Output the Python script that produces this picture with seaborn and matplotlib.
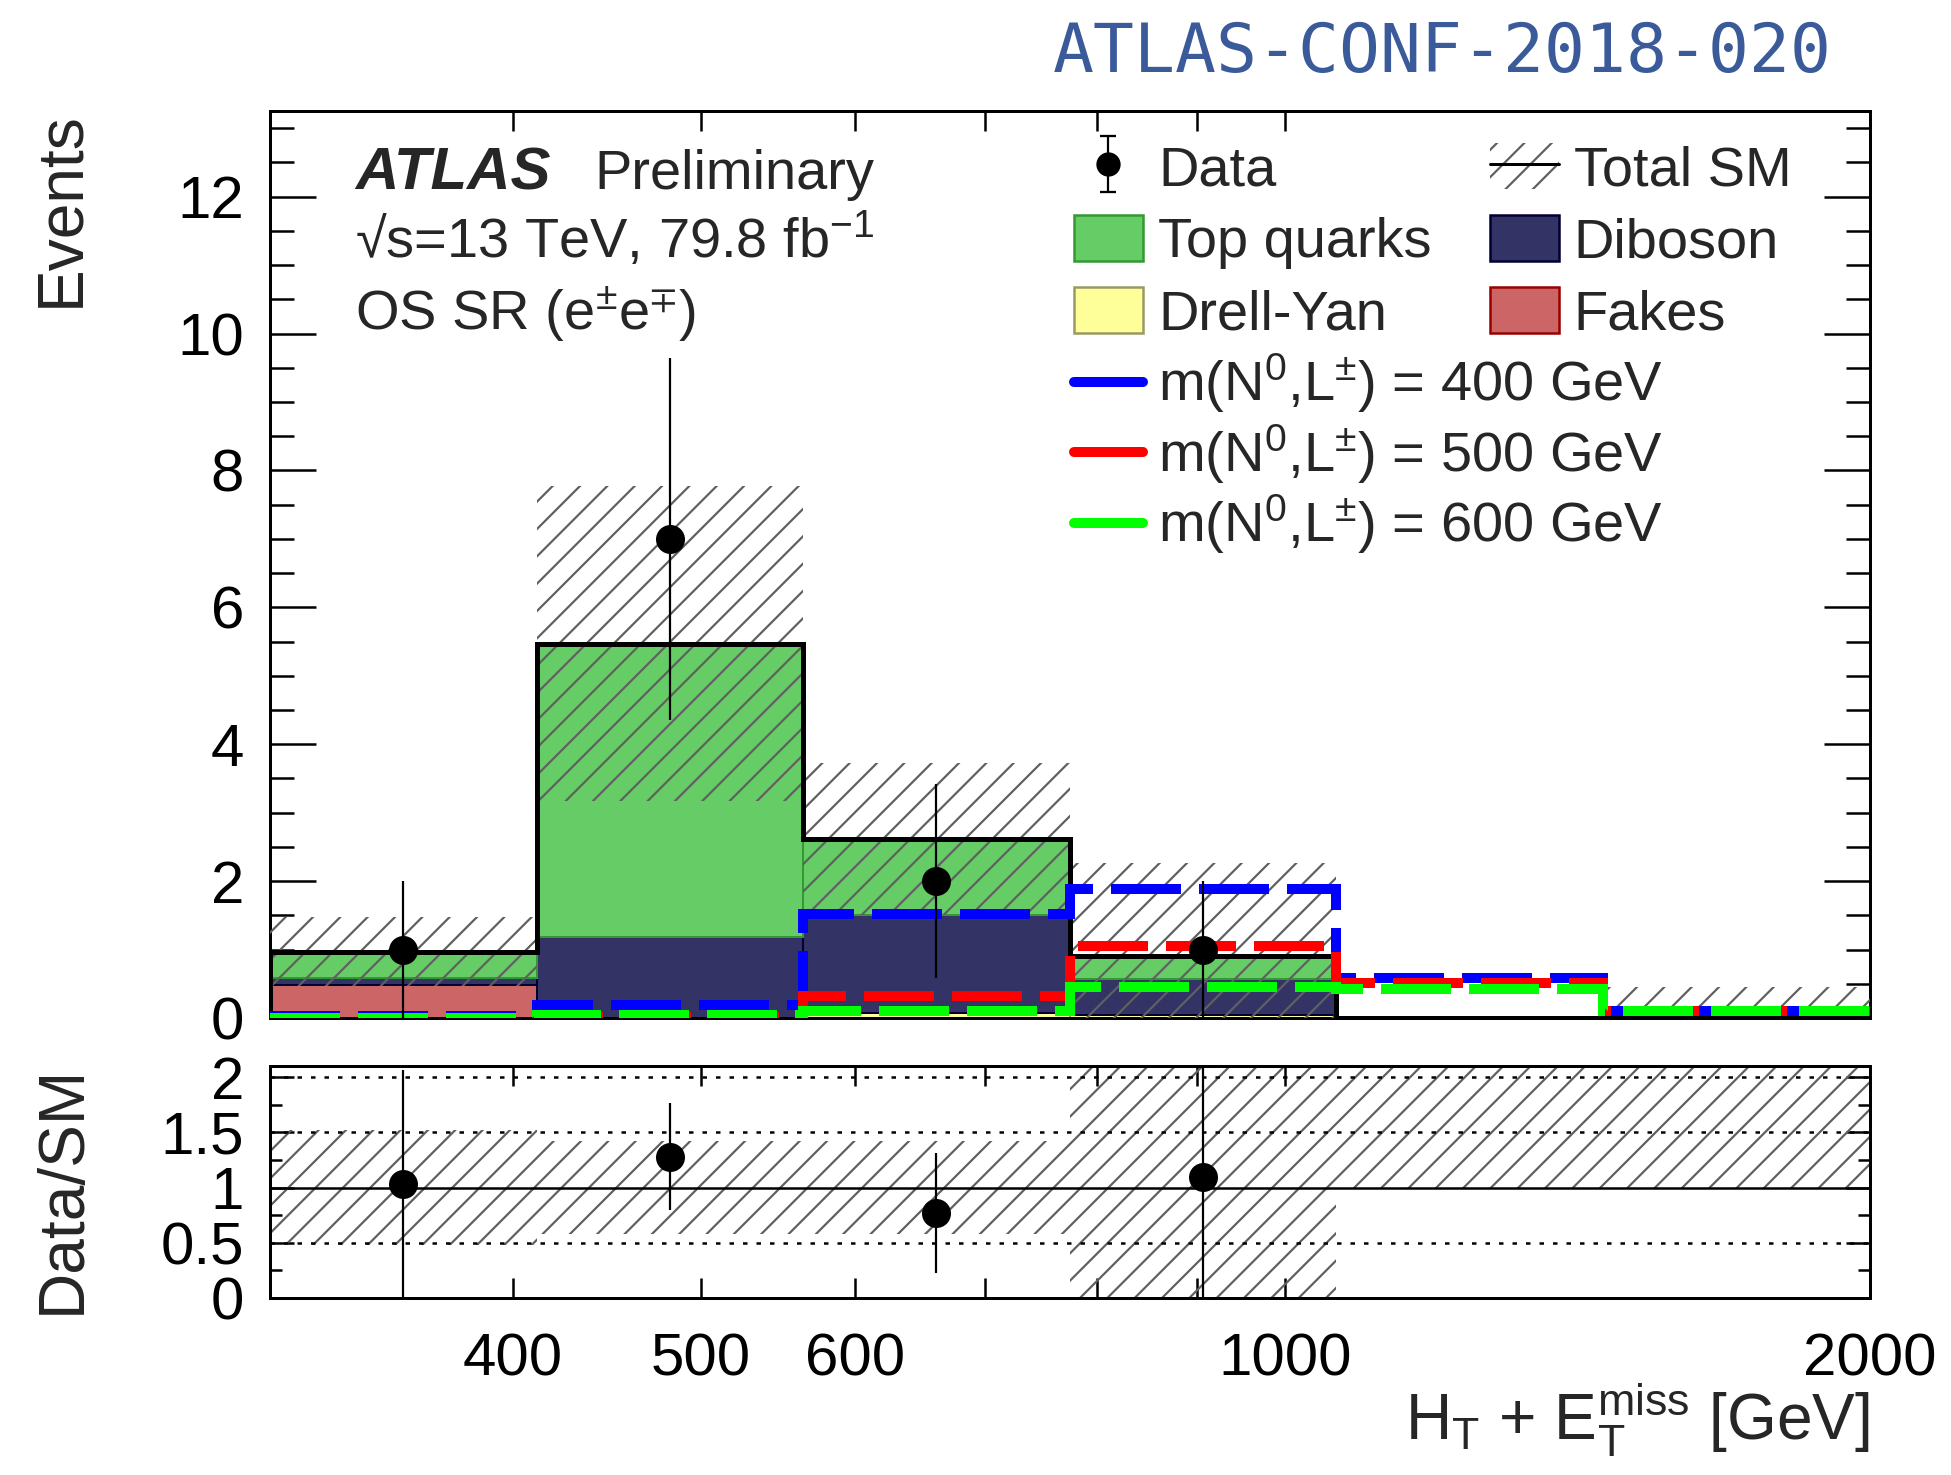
import numpy as np
import matplotlib
matplotlib.use("Agg")
import matplotlib.pyplot as plt
from matplotlib.patches import Patch
from matplotlib.lines import Line2D
from matplotlib.ticker import MultipleLocator, FixedLocator, NullLocator, FuncFormatter
import seaborn as sns

DPI = 164


def pt(px):
    # pixel size -> points at the figure dpi
    return px * 72.0 / DPI


# -------------------------
# Data
# -------------------------
edges = [300, 411.5, 564.5, 774.3, 1062, 1457, 2000]
fakes = [0.48, 0.0, 0.0, 0.0, 0.0, 0.0]
drell_yan = [0.0, 0.0, 0.08, 0.05, 0.0, 0.0]
diboson = [0.10, 1.19, 1.43, 0.52, 0.0, 0.0]
top_quarks = [0.39, 4.28, 1.10, 0.34, 0.0, 0.0]
sm_unc = [0.50, 2.30, 1.11, 1.35, 0.0, 0.46]
data_counts = [1, 7, 2, 1, 0, 0]
sig_400 = [0.03, 0.19, 1.52, 1.89, 0.58, 0.10]
sig_500 = [0.00, 0.02, 0.32, 1.05, 0.51, 0.10]
sig_600 = [0.00, 0.05, 0.10, 0.46, 0.43, 0.10]
ratio_band_lo = [0.48, 0.58, 0.575, 0.0, 1.0, 1.0]
ratio_band_hi = [1.52, 1.42, 1.425, 2.2, 2.2, 2.2]
x_labels = {400: "400", 500: "500", 600: "600", 1000: "1000", 2000: "2000"}

# -------------------------
# Style
# -------------------------
sns.set_theme(style="ticks")
plt.rcParams["font.family"] = ["Liberation Sans", "DejaVu Sans"]
plt.rcParams["mathtext.fontset"] = "custom"
plt.rcParams["mathtext.rm"] = "Liberation Sans"
plt.rcParams["mathtext.it"] = "Liberation Sans:italic"
plt.rcParams["mathtext.default"] = "regular"
plt.rcParams["hatch.linewidth"] = pt(2.2)
plt.rcParams["axes.linewidth"] = pt(3)

TXT = pt(56)
TICK = pt(60)

fig = plt.figure(figsize=(1951 / DPI, 1475 / DPI), dpi=DPI)
ax = fig.add_axes([0.1384, 0.3098, 0.8201, 0.6149])
ax2 = fig.add_axes([0.1384, 0.1200, 0.8201, 0.1573], sharex=ax)

e = np.array(edges)
left = e[:-1]
width = np.diff(e)
centres = np.sqrt(e[:-1] * e[1:])

# stacked backgrounds, bottom -> top
stack = [
    ("Fakes", fakes, "#cc6666", "#990000"),
    ("Drell-Yan", drell_yan, "#ffff99", "#999966"),
    ("Diboson", diboson, "#333366", "#000033"),
    ("Top quarks", top_quarks, "#66cc66", "#339933"),
]
base = np.zeros(len(left))
for name, vals, fc, ec in stack:
    v = np.array(vals)
    ax.bar(left, v, width=width, bottom=base, align="edge", color=fc,
           edgecolor=ec, linewidth=pt(2), zorder=2)
    base = base + v
total = base

# uncertainty band
unc = np.array(sm_unc)
lo = np.clip(total - unc, 0, None)
ax.bar(left, total + unc - lo, width=width, bottom=lo, align="edge", fill=False,
       hatch="//", edgecolor="#606060", linewidth=0, zorder=3)
ax.stairs(total, e, baseline=0, color="black", linewidth=pt(5), zorder=4)

# signals
dash = (0, (7.0, 1.8))
for vals, col in [(sig_400, "#0000ff"), (sig_500, "#ff0000"), (sig_600, "#00ff00")]:
    ax.stairs(vals, e, baseline=None, color=col, linewidth=pt(10),
              linestyle=dash, zorder=5)

# data
counts = np.array(data_counts, dtype=float)
has = counts > 0
ax.errorbar(centres[has], counts[has], yerr=np.sqrt(counts[has]), fmt="none",
            ecolor="black", elinewidth=pt(2.2), capsize=0, zorder=6)
sns.scatterplot(x=centres[has], y=counts[has], ax=ax, color="black", s=pt(29) ** 2,
                edgecolor="black", linewidth=0, zorder=7, legend=False)

# -------------------------
# Ratio panel
# -------------------------
ax2.bar(left, np.array(ratio_band_hi) - np.array(ratio_band_lo), width=width,
        bottom=ratio_band_lo, align="edge", fill=False, hatch="//",
        edgecolor="#606060", linewidth=0, zorder=2)
for yv in (0.5, 1.5, 2.0):
    ax2.axhline(yv, color="black", linestyle=(0, (1.8, 3.6)), linewidth=pt(2.5), zorder=3)
ax2.axhline(1.0, color="black", linewidth=pt(2.5), zorder=3)
ratio = counts[has] / total[has]
ratio_err = np.sqrt(counts[has]) / total[has]
ax2.errorbar(centres[has], ratio, yerr=ratio_err, fmt="none", ecolor="black",
             elinewidth=pt(2.2), capsize=0, zorder=4)
sns.scatterplot(x=centres[has], y=ratio, ax=ax2, color="black", s=pt(29) ** 2,
                edgecolor="black", linewidth=0, zorder=5, legend=False)

# -------------------------
# Axes
# -------------------------
for a in (ax, ax2):
    a.set_xscale("log")
    a.set_xlim(300, 2000)
    a.xaxis.set_major_locator(FixedLocator([300, 400, 500, 600, 700, 800, 900, 1000, 2000]))
    a.xaxis.set_minor_locator(NullLocator())
    a.tick_params(which="both", direction="in", top=True, right=True,
                  width=pt(2.5), labelsize=TICK, colors="black")
    for s in a.spines.values():
        s.set_color("black")

ax.set_ylim(0, 13.25)
ax.yaxis.set_major_locator(MultipleLocator(2))
ax.yaxis.set_minor_locator(MultipleLocator(0.5))
ax.tick_params(axis="y", which="major", length=pt(46), pad=pt(26))
ax.tick_params(axis="y", which="minor", length=pt(24))
ax.tick_params(axis="x", which="major", length=pt(20), labelbottom=False)

ax2.set_ylim(0, 2.1)
ax2.yaxis.set_major_locator(MultipleLocator(0.5))
ax2.yaxis.set_minor_locator(MultipleLocator(0.25))
ax2.yaxis.set_major_formatter(FuncFormatter(lambda v, p: f"{v:g}"))
ax2.tick_params(axis="y", which="major", length=pt(24), pad=pt(26))
ax2.tick_params(axis="y", which="minor", length=pt(12))
ax2.tick_params(axis="x", which="major", length=pt(20), pad=pt(34))
ax2.xaxis.set_major_formatter(FuncFormatter(lambda v, p: x_labels.get(int(round(v)), "")))

ax.set_ylabel("Events", fontsize=pt(64), loc="top")
ax.yaxis.set_label_coords(-0.112, 1.0)
ax2.set_ylabel("Data/SM", fontsize=pt(64))
ax2.yaxis.set_label_coords(-0.111, 0.47)
ax2.set_xlabel(r"H$_\mathrm{T}$ + E$_\mathrm{T}^\mathrm{miss}$ [GeV]", fontsize=pt(64), loc="right")
ax2.xaxis.set_label_coords(1.0, -0.36)

# -------------------------
# Labels and legends
# -------------------------
ax.text(0.053, 0.914, "ATLAS", transform=ax.transAxes, fontsize=pt(60),
        fontweight="bold", fontstyle="italic", va="baseline")
ax.text(0.203, 0.914, "Preliminary", transform=ax.transAxes, fontsize=TXT, va="baseline")
ax.text(0.053, 0.838, "\u221as=13 TeV, 79.8 fb$^{-1}$", transform=ax.transAxes,
        fontsize=TXT, va="baseline")
ax.text(0.053, 0.759, r"OS SR (e$^{\pm}$e$^{\mp}$)", transform=ax.transAxes,
        fontsize=TXT, va="baseline")

fig.text(1832 / 1951, 1 - 53 / 1475, "ATLAS-CONF-2018-020", ha="right", va="center",
         family="DejaVu Sans Mono", color="#3b5a9a", fontsize=pt(68))

data_h = ax.errorbar([np.nan], [np.nan], yerr=[1.0], fmt="o", color="black",
                     ms=pt(22), elinewidth=pt(2.2), capsize=pt(8))
sm_h = (Patch(facecolor="none", edgecolor="#606060", hatch="//", linewidth=0),
        Line2D([], [], color="black", linewidth=pt(3)))
handles = [data_h,
           Patch(facecolor="#66cc66", edgecolor="#339933", linewidth=pt(2.5)),
           Patch(facecolor="#ffff99", edgecolor="#999966", linewidth=pt(2.5)),
           sm_h,
           Patch(facecolor="#333366", edgecolor="#000033", linewidth=pt(2.5)),
           Patch(facecolor="#cc6666", edgecolor="#990000", linewidth=pt(2.5))]
labels = ["Data", "Top quarks", "Drell-Yan", "Total SM", "Diboson", "Fakes"]
leg1 = ax.legend(handles, labels, ncol=2, loc="upper left", bbox_to_anchor=(0.5025, 0.965),
                 frameon=False, fontsize=TXT, borderpad=0, borderaxespad=0,
                 handlelength=1.23, handleheight=0.9, handletextpad=0.27,
                 columnspacing=1.04, labelspacing=0.31)
ax.add_artist(leg1)

sig_handles = [Line2D([], [], color=c, linewidth=pt(10)) for c in ("#0000ff", "#ff0000", "#00ff00")]
sig_labels = [r"m(N$^0$,L$^{\pm}$) = 400 GeV", r"m(N$^0$,L$^{\pm}$) = 500 GeV",
              r"m(N$^0$,L$^{\pm}$) = 600 GeV"]
ax.legend(sig_handles, sig_labels, loc="upper left", bbox_to_anchor=(0.5025, 0.7345),
          frameon=False, fontsize=TXT, borderpad=0, borderaxespad=0,
          handlelength=1.23, handletextpad=0.27, labelspacing=0.12)

fig.savefig("out.png", dpi=DPI)
